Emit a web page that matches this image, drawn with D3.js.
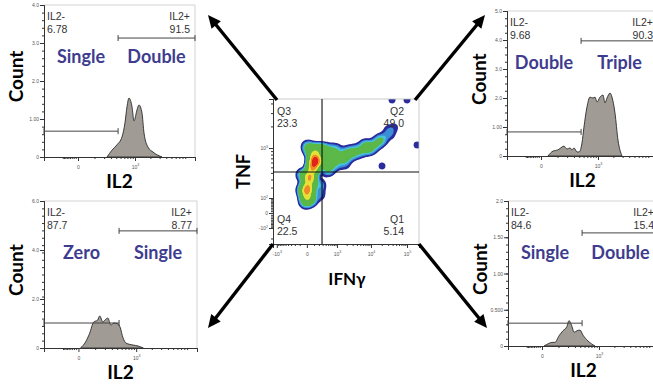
<!DOCTYPE html>
<html>
<head>
<meta charset="utf-8">
<script src="https://cdn.jsdelivr.net/npm/d3@7"></script>
<style>
  body { margin: 0; background: #fff; }
  svg { display: block; font-family: "Liberation Sans", Arial, sans-serif; }
  .big { font-family: Lato, "Open Sans", sans-serif; font-weight: 700; }
  .tiny text { font-size: 5px; fill: #555; }
</style>
</head>
<body>
<svg id="fig" width="653" height="384"></svg>
<script>
// IL2 histograms: [IL2 value, count]
const histTopLeft = [[239,0],[318,0.18],[416,0.32],[537,0.53],[622,0.9],[685,1.32],[755,1.55],[870,1.32],[955,0.95],[1097,1.24],[1201,1.37],[1376,1.16],[1507,0.63],[1801,0.26],[2246,0.13],[3326,0]];
const histTopRight = [[34,0],[66,0.17],[104,0.21],[142,0.31],[163,0.34],[199,0.24],[239,0.28],[268,0.21],[301,0.28],[355,0.14],[395,0.14],[461,0.45],[510,1.0],[592,1.69],[685,2.03],[792,2.0],[870,2.03],[955,1.86],[1097,2.03],[1257,2.1],[1376,1.83],[1507,2.0],[1723,2.17],[1883,2.03],[2149,1.48],[2451,0.55],[2920,0]];
const histBottomLeft = [[9,0],[34,0.24],[59,0.6],[88,1.06],[122,1.14],[142,1.31],[175,1.06],[199,1.14],[239,1.22],[284,0.94],[336,1.02],[416,0.98],[461,0.86],[537,0.41],[622,0.2],[870,0.12],[1097,0.08],[1376,0]];
const histBottomRight = [[9,0],[29,0.03],[52,0.05],[73,0.05],[104,0.14],[142,0.21],[186,0.27],[211,0.35],[253,0.27],[284,0.19],[336,0.21],[395,0.22],[461,0.15],[592,0.07],[830,0]];

// gate stats [IL2-, IL2+]
const statsTopLeft = ["6.78", "91.5"];
const statsTopRight = ["9.68", "90.3"];
const statsBottomLeft = ["87.7", "8.77"];
const statsBottomRight = ["84.6", "15.4"];

// words for the two gates
const wordsTopLeft = ["Single", "Double"];
const wordsTopRight = ["Double", "Triple"];
const wordsBottomLeft = ["Zero", "Single"];
const wordsBottomRight = ["Single", "Double"];

// count axis ticks
const yTicksTopLeft = [0, 1, 2, 3, 4];
const yLabelsTopLeft = ["0", "1.00", "2.0", "3.0", "4.0"];
const yTicksTopRight = [0, 1, 2, 3, 4, 5];
const yLabelsTopRight = ["0", "1.00", "2.0", "3.0", "4.0", "5.0"];
const yTicksBottomLeft = [0, 2, 4, 6];
const yLabelsBottomLeft = ["0", "2.0", "4.0", "6.0"];
const yTicksBottomRight = [0, 0.5, 1, 1.5, 2];
const yLabelsBottomRight = ["0", "0.500", "1.00", "1.50", "2.0"];

// gate heights (count units) [IL2- gate, IL2+ gate]
const gateLevelsTopLeft = [0.68, 3.13];
const gateLevelsTopRight = [0.83, 3.97];
const gateLevelsBottomLeft = [1.02, 4.78];
const gateLevelsBottomRight = [0.315, 1.56];
const il2Gate = 440;

const il2Domain = [-318, 13630];
const il2Major = [0, 1000];
const il2MajorLabels = ["0", "10^3"];
const il2Minor = [-90,-80,-70,-60,-50,-40,-30,-20,-10,100,200,300,400,500,600,700,800,900,2000,3000,4000,5000,6000,7000,8000,9000];

// IFNg / TNF density: [IFNg, TNF, weight]
const densityEvents = [
  [117,659,10],[82,487,8],[38,321,8],[13,195,7.5],[1,117,5],[-10,69,2.2],
  [178,937,3.5],[67,875,3],[375,937,2.6],[280,613,2.6],[490,450,1.8],[862,937,1.8],
  [1248,709,1.3],[226,229,1.3],[226,126,0.9],[2046,875,1.4],[3515,937,1.1],
  [6786,1107,1.2],[12963,1107,1.5],[9379,937,0.9],[20306,1304,0.8],
  [29806,1792,0.6],[46580,1967,0.5],[20306,527,0.6],[188800,1107,0.6],
  [38454,4434,0.6],[99880,4434,0.6],[1780,547,0.7],
  [862,547,1.2],[1780,709,1.3],[2875,788,1.1],[4890,875,1.2],[7730,1002,1.3],
  [17870,1304,1.1],[33860,1530,0.7],
  [13,1036,2],[581,659,2],[-49,366,2.2],[-49,174,2.2],[67,84,1.4]
];
const quadGate = [281, 415];
const quadStats = [["Q3","23.3"],["Q2","49.0"],["Q4","22.5"],["Q1","5.14"]];
const ifngMajor = [-1000, 0, 1000, 10000, 100000];
const ifngLabels = ["-10^3", "0", "10^3", "10^4", "10^5"];
const ifngMinor = [-900,-800,-700,-600,-500,-400,-300,-200,-100,100,200,300,400,500,600,700,800,900,2000,3000,4000,5000,6000,7000,8000,9000,20000,30000,40000,50000,60000,70000,80000,90000,200000];
const tnfMajor = [-100, 0, 100, 1000];
const tnfLabels = ["-10^2", "0", "10^2", "10^3"];
const tnfMinor = [-200,-90,-80,-70,-60,-50,-40,-30,-20,-10,10,20,30,40,50,60,70,80,90,200,300,400,500,600,700,800,900,2000,3000,4000];

const svg = d3.select('#fig');

function supHtml(s) {
  const p = s.split('^');
  return p.length > 1 ? `${p[0]}<tspan dy="-2.5" font-size="3.6">${p[1]}</tspan>` : s;
}

function styleAxis(g) {
  g.attr('class', 'tiny');
  g.select('.domain').attr('stroke', '#333');
  g.selectAll('.tick line').attr('stroke', '#333');
}

const panels = [
  { hist: histTopLeft, stats: statsTopLeft, words: wordsTopLeft, yt: yTicksTopLeft, yl: yLabelsTopLeft, gates: gateLevelsTopLeft, x: 44, y: 5, w: 151, h: 152, yMax: 4 },
  { hist: histTopRight, stats: statsTopRight, words: wordsTopRight, yt: yTicksTopRight, yl: yLabelsTopRight, gates: gateLevelsTopRight, x: 507, y: 11, w: 151, h: 145, yMax: 5 },
  { hist: histBottomLeft, stats: statsBottomLeft, words: wordsBottomLeft, yt: yTicksBottomLeft, yl: yLabelsBottomLeft, gates: gateLevelsBottomLeft, x: 44, y: 201, w: 153, h: 147, yMax: 6 },
  { hist: histBottomRight, stats: statsBottomRight, words: wordsBottomRight, yt: yTicksBottomRight, yl: yLabelsBottomRight, gates: gateLevelsBottomRight, x: 508, y: 201, w: 151, h: 145, yMax: 2 }
];

panels.forEach(p => {
  const g = svg.append('g').attr('transform', `translate(${p.x},${p.y})`);
  const x = d3.scaleSymlog().constant(100).domain(il2Domain).range([0, p.w]);
  const y = d3.scaleLinear().domain([0, p.yMax]).range([p.h, 0]);

  g.append('path').attr('d', `M0,0H${p.w}V${p.h}`)
    .attr('fill', 'none').attr('stroke', '#c8c8c8').attr('stroke-width', 0.8);

  const area = d3.area().x(d => x(d[0])).y0(y(0)).y1(d => y(d[1])).curve(d3.curveMonotoneX);
  g.append('path').datum(p.hist).attr('d', area)
    .attr('fill', '#a19b96').attr('stroke', '#2a2a2a').attr('stroke-width', 0.9);

  // count axis
  const minorY = d3.range(0, p.yMax + 1e-9, p.yMax / 20);
  g.append('g').call(d3.axisLeft(y).tickValues(minorY).tickSize(2).tickFormat('')).call(styleAxis);
  g.append('g').call(d3.axisLeft(y).tickValues(p.yt).tickSize(4).tickPadding(1)
    .tickFormat((d, i) => p.yl[i])).call(styleAxis);

  // IL2 axis
  const xa = g.append('g').attr('transform', `translate(0,${p.h})`);
  xa.append('g').call(d3.axisBottom(x).tickValues(il2Minor).tickSize(2).tickFormat('')).call(styleAxis);
  xa.append('g').call(d3.axisBottom(x).tickValues(il2Major).tickSize(4).tickPadding(4)
    .tickFormat((d, i) => il2MajorLabels[i])).call(styleAxis)
    .selectAll('.tick text').html((d, i) => supHtml(il2MajorLabels[i]));

  // gates
  const gx = x(il2Gate);
  const segs = [[0, gx, y(p.gates[0])], [gx, p.w, y(p.gates[1])]];
  segs.forEach(s => {
    g.append('path')
      .attr('d', `M${s[0]},${s[2]}H${s[1]}M${s[0]},${s[2] - 3}V${s[2] + 3}M${s[1]},${s[2] - 3}V${s[2] + 3}`)
      .attr('stroke', '#444').attr('stroke-width', 1).attr('fill', 'none');
  });

  // stats
  const st = g.append('g').attr('font-size', 10.5).attr('fill', '#333');
  st.append('text').attr('x', 3).attr('y', 15).text('IL2-');
  st.append('text').attr('x', 3).attr('y', 28).text(p.stats[0]);
  st.append('text').attr('x', p.w - 5).attr('y', 15).attr('text-anchor', 'end').text('IL2+');
  st.append('text').attr('x', p.w - 5).attr('y', 28).attr('text-anchor', 'end').text(p.stats[1]);

  // words
  const wx = [gx / 2, (gx + p.w) / 2];
  p.words.forEach((w, i) => {
    g.append('text').attr('class', 'big').attr('x', wx[i]).attr('y', 58)
      .attr('text-anchor', 'middle').attr('font-size', 18).attr('fill', '#3e3c8f').text(w);
  });

  // axis titles
  g.append('text').attr('class', 'big').attr('font-size', 19).attr('text-anchor', 'middle')
    .attr('transform', `translate(-21,${p.h * 0.47}) rotate(-90)`).text('Count');
  g.append('text').attr('class', 'big').attr('font-size', 19).attr('text-anchor', 'middle')
    .attr('x', p.w / 2).attr('y', p.h + 31).text('IL2');
});

// center density plot
const cpos = { x: 273, y: 99, w: 146, h: 145 };
const cg = svg.append('g').attr('transform', `translate(${cpos.x},${cpos.y})`);
const cx = d3.scaleSymlog().constant(174).domain([-1319, 214000]).range([0, cpos.w]);
const cy = d3.scaleSymlog().constant(190).domain([-266, 4560]).range([cpos.h, 0]);

svg.append('clipPath').attr('id', 'cclip').append('rect').attr('width', cpos.w).attr('height', cpos.h);

const dens = d3.contourDensity()
  .x(d => cx(d[0])).y(d => cy(d[1])).weight(d => d[2])
  .size([cpos.w, cpos.h]).cellSize(1).bandwidth(3.9).thresholds(80)(densityEvents);
const vmax = d3.max(dens, d => d.value);
const pseudo = d3.scaleThreshold()
  .domain([0.07, 0.1, 0.14, 0.5, 0.68, 0.84])
  .range(['#2b2d9d', '#3c8ed6', '#47c4df', '#5cb848', '#e6e03a', '#f08a2c', '#e2261c']);
cg.append('g').attr('clip-path', 'url(#cclip)')
  .selectAll('path').data(dens.filter(d => d.value / vmax > 0.03)).join('path')
  .attr('d', d3.geoPath()).attr('fill', d => pseudo(d.value / vmax));

cg.append('path').attr('d', `M0,0H${cpos.w}V${cpos.h}`)
  .attr('fill', 'none').attr('stroke', '#bdbdbd').attr('stroke-width', 0.8);

const cxa = cg.append('g').attr('transform', `translate(0,${cpos.h})`);
cxa.append('g').call(d3.axisBottom(cx).tickValues(ifngMinor).tickSize(2).tickFormat('')).call(styleAxis);
cxa.append('g').call(d3.axisBottom(cx).tickValues(ifngMajor).tickSize(4).tickPadding(4)
  .tickFormat((d, i) => ifngLabels[i])).call(styleAxis)
  .selectAll('.tick text').html((d, i) => supHtml(ifngLabels[i]));
cg.append('g').call(d3.axisLeft(cy).tickValues(tnfMinor).tickSize(2).tickFormat('')).call(styleAxis);
cg.append('g').call(d3.axisLeft(cy).tickValues(tnfMajor).tickSize(4).tickPadding(1)
  .tickFormat((d, i) => tnfLabels[i])).call(styleAxis)
  .selectAll('.tick text').html((d, i) => supHtml(tnfLabels[i]));

// quadrant gate
cg.append('path')
  .attr('d', `M${cx(quadGate[0])},0V${cpos.h}M0,${cy(quadGate[1])}H${cpos.w}`)
  .attr('stroke', '#111').attr('stroke-width', 1.1);

const qt = cg.append('g').attr('font-size', 10.5).attr('fill', '#333');
[[4, 16], [cpos.w - 15, 16], [4, 124], [cpos.w - 15, 124]].forEach((q, i) => {
  const anchor = i % 2 ? 'end' : 'start';
  qt.append('text').attr('x', q[0]).attr('y', q[1]).attr('text-anchor', anchor).text(quadStats[i][0]);
  qt.append('text').attr('x', q[0]).attr('y', q[1] + 12).attr('text-anchor', anchor).text(quadStats[i][1]);
});

cg.append('text').attr('class', 'big').attr('font-size', 18).attr('text-anchor', 'middle')
  .attr('transform', `translate(-23,${cpos.h / 2}) rotate(-90)`).text('TNF');
cg.append('text').attr('class', 'big').attr('font-size', 17).attr('text-anchor', 'middle')
  .attr('x', 74).attr('y', 186).text('IFNγ');

// arrows from the corners of the dot plot
function arrow(x1, y1, x2, y2) {
  const a = Math.atan2(y2 - y1, x2 - x1);
  const len = 13, half = 6;
  const bx = x2 - len * Math.cos(a), by = y2 - len * Math.sin(a);
  svg.append('line').attr('x1', x1).attr('y1', y1).attr('x2', bx + 2 * Math.cos(a)).attr('y2', by + 2 * Math.sin(a))
    .attr('stroke', '#000').attr('stroke-width', 3.4);
  svg.append('path')
    .attr('d', `M${x2},${y2}L${bx - half * Math.sin(a)},${by + half * Math.cos(a)}L${bx + half * Math.sin(a)},${by - half * Math.cos(a)}Z`)
    .attr('fill', '#000');
}
arrow(cpos.x + 4, cpos.y + 1, 208, 15);
arrow(cpos.x + cpos.w - 4, cpos.y + 1, 485, 15);
arrow(cpos.x, cpos.y + cpos.h, 208, 328);
arrow(cpos.x + cpos.w, cpos.y + cpos.h, 487, 328);
</script>
</body>
</html>
